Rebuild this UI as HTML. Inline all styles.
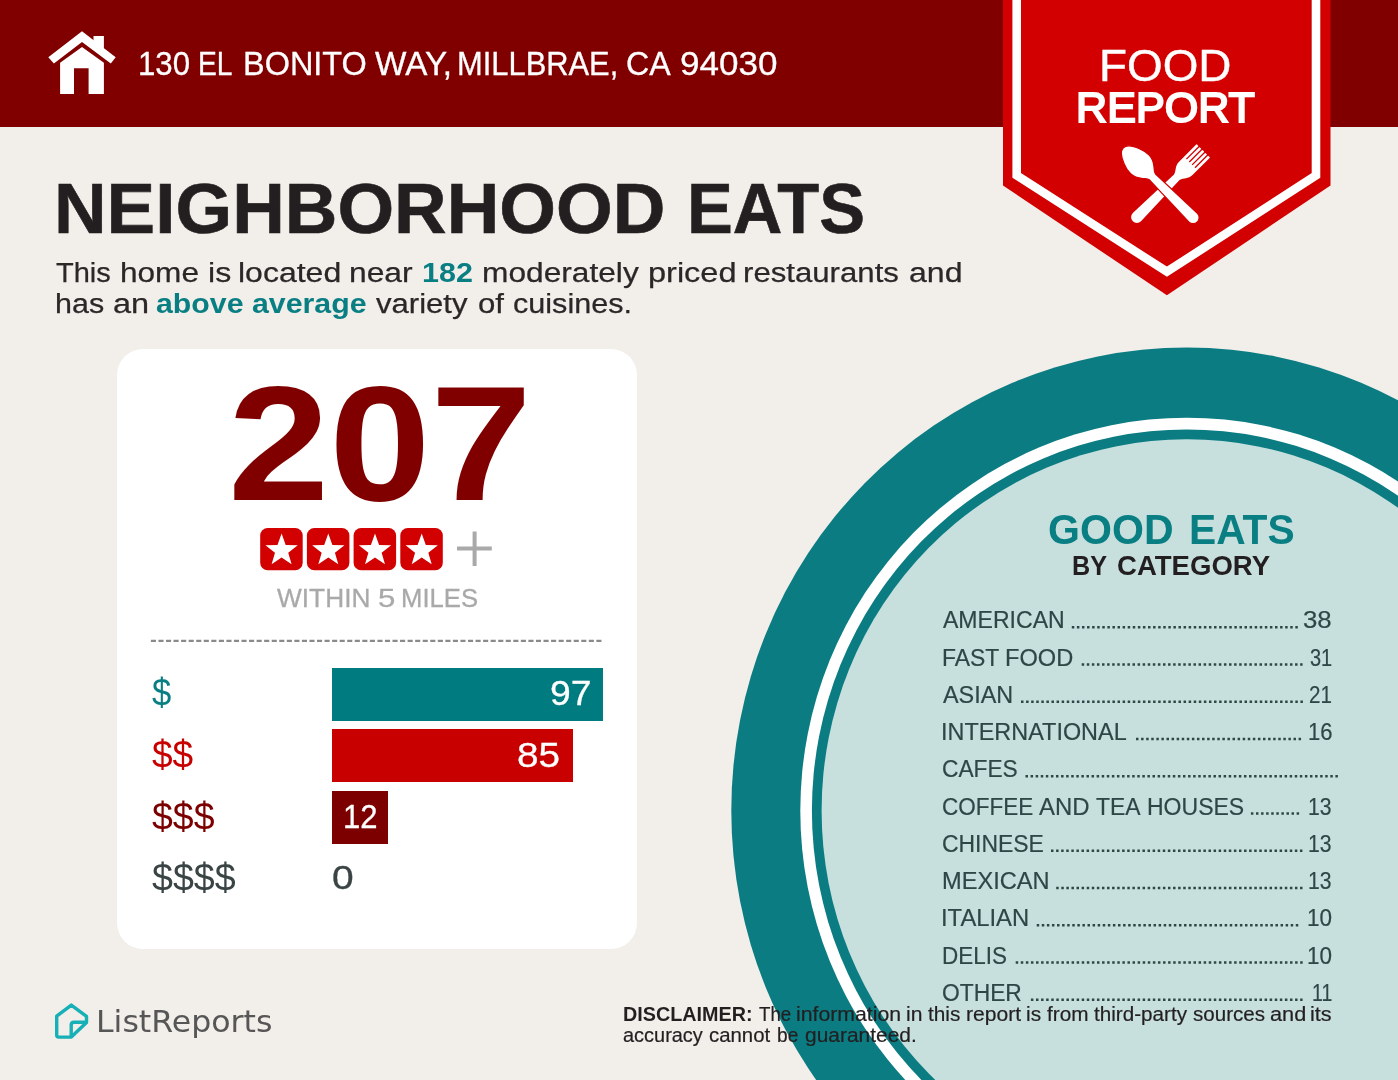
<!DOCTYPE html>
<html lang="en">
<head>
<meta charset="utf-8">
<title>Food Report - Neighborhood Eats</title>
<style>
html,body{margin:0;padding:0}
body{width:1398px;height:1080px;position:relative;overflow:hidden;background:#f2eeea;font-family:'Liberation Sans',sans-serif}
.t{position:absolute;white-space:nowrap;line-height:1;transform-origin:0 0}
.abs{position:absolute}
#hdr{left:0;top:0;width:1398px;height:126.8px;background:#800000}
#card{left:117px;top:349px;width:519.6px;height:599.5px;border-radius:26px;background:#fff}
.bar{position:absolute;left:332.1px;height:53.3px}
svg{position:absolute;left:0;top:0}
</style>
</head>
<body>
<div id="hdr" class="abs"></div>
<svg id="bg" width="1398" height="1080" viewBox="0 0 1398 1080">
  <!-- plate -->
  <ellipse cx="1186.8" cy="810.7" rx="455.5" ry="463.2" fill="#0a7c82"/>
  <ellipse cx="1186.8" cy="810.7" rx="386.5" ry="393.0" fill="#fff"/>
  <ellipse cx="1186.8" cy="810.7" rx="374.9" ry="381.3" fill="#0a7c82"/>
  <ellipse cx="1186.8" cy="810.7" rx="365.2" ry="371.4" fill="#c7e0de"/>
  <!-- badge -->
  <polygon points="1003,0 1330.5,0 1330.5,185.5 1166.9,295.3 1003,185.5" fill="#d20000"/>
  <polyline points="1016.7,-5 1016.7,175.4 1166.9,271.7 1316,175.4 1316,-5" fill="none" stroke="#fff" stroke-width="8.6"/>
  <!-- house icon -->
  <g fill="#fff">
    <polygon points="48.3,57.3 82,31.25 115.7,57.3 110.8,63.5 82,42 53.9,63.5"/>
    <polygon points="93.5,36.1 103.9,36.1 103.9,52 93.5,44"/>
    <path d="M60.1,62.8 L82,46.9 L103.9,62.8 V94.1 H88.6 V68.2 H74 V94.1 H60.1 Z"/>
  </g>
  <!-- fork -->
  <g fill="#fff" transform="translate(1203.3,150.8) rotate(45)">
    <path d="M-9.45,0.6 Q-9.45,0 -8.85,0 H-7.30 Q-6.70,0 -6.70,0.6 V17.8 H-5.40 V0.6 Q-5.40,0 -4.80,0 H-3.25 Q-2.65,0 -2.65,0.6 V17.8 H-1.35 V0.6 Q-1.35,0 -0.75,0 H0.80 Q1.40,0 1.40,0.6 V17.8 H2.70 V0.6 Q2.70,0 3.30,0 H4.85 Q5.45,0 5.45,0.6 V17.8 H6.75 V0.6 Q6.75,0 7.35,0 H8.90 Q9.50,0 9.50,0.6 V24.8 C9.45,31 5.4,32.5 3.9,37.5 L5.8,93.9 A5.8,5.8 0 0 1 -5.8,93.9 L-3.9,37.5 C-5.4,32.5 -9.45,31 -9.45,24.8 Z"/>
  </g>
  <!-- spoon -->
  <g fill="#fff" stroke="#d20000" stroke-width="1.3" transform="translate(1123.3,147.8) rotate(-45)">
    <path d="M0,0 C5,0 8.5,6 10.8,12 C12.6,16.5 13.3,20 13.2,23.5 C13,28.5 10.5,32.5 8,35.5 C6,38 4.6,39 4.2,41.5 L6.1,98.7 A6.1,6.1 0 0 1 -6.1,98.7 L-4.2,41.5 C-4.6,39 -6,38 -8,35.5 C-10.5,32.5 -13,28.5 -13.2,23.5 C-13.3,20 -12.6,16.5 -10.8,12 C-8.5,6 -5,0 0,0 Z"/>
  </g>
</svg>
<div id="card" class="abs"></div>
<div class="bar" style="top:667.5px;width:270.9px;background:#007b7f"></div>
<div class="bar" style="top:729.2px;width:240.6px;background:#c80000"></div>
<div class="bar" style="top:791.1px;width:55.8px;background:#7d0000"></div>
<svg id="fg" width="1398" height="1080" viewBox="0 0 1398 1080">
  <!-- stars -->
  <g id="stars">
    <g transform="translate(260.2,528)"><rect width="42.5" height="42.3" rx="7.5" fill="#d20000"/><polygon fill="#fff" points="21.40,5.60 25.50,16.96 37.57,17.35 28.03,24.75 31.39,36.35 21.40,29.57 11.41,36.35 14.77,24.75 5.23,17.35 17.30,16.96"/></g>
    <g transform="translate(306.9,528)"><rect width="42.5" height="42.3" rx="7.5" fill="#d20000"/><polygon fill="#fff" points="21.40,5.60 25.50,16.96 37.57,17.35 28.03,24.75 31.39,36.35 21.40,29.57 11.41,36.35 14.77,24.75 5.23,17.35 17.30,16.96"/></g>
    <g transform="translate(353.6,528)"><rect width="42.5" height="42.3" rx="7.5" fill="#d20000"/><polygon fill="#fff" points="21.40,5.60 25.50,16.96 37.57,17.35 28.03,24.75 31.39,36.35 21.40,29.57 11.41,36.35 14.77,24.75 5.23,17.35 17.30,16.96"/></g>
    <g transform="translate(400.3,528)"><rect width="42.5" height="42.3" rx="7.5" fill="#d20000"/><polygon fill="#fff" points="21.40,5.60 25.50,16.96 37.57,17.35 28.03,24.75 31.39,36.35 21.40,29.57 11.41,36.35 14.77,24.75 5.23,17.35 17.30,16.96"/></g>
  </g>
  <path d="M150.9,640.9H603.7" stroke="#8a8a8a" stroke-width="2.2" stroke-dasharray="5.1 2.45" fill="none"/>
  <!-- plus -->
  <path d="M457,548.6 H491.8 M474.6,531.4 V566.1" stroke="#a9a9a9" stroke-width="4" fill="none"/>
  <!-- logo -->
  <g fill="none" stroke="#17b0b6" stroke-width="3.4" stroke-linejoin="round" stroke-linecap="round">
    <path d="M71.3,1005.1 L56.7,1016.2 V1035 Q56.7,1037.1 58.8,1037.1 H71.3 L86.5,1022.6 V1016.4 Z"/>
    <path d="M71.2,1036.5 V1025 Q71.2,1022.2 74,1022.2 H86"/>
  </g>
</svg>
<svg width="1398" height="1080" viewBox="0 0 1398 1080"><g stroke="#2f4646" stroke-width="2.5" stroke-dasharray="2.5 2.58">
<path d="M1071.8,627.2h226.0"/>
<path d="M1081.7,664.5h220.9"/>
<path d="M1021.0,701.7h281.9"/>
<path d="M1136.0,739.0h165.1"/>
<path d="M1025.5,776.2h312.4"/>
<path d="M1250.9,813.5h48.2"/>
<path d="M1051.0,850.8h251.4"/>
<path d="M1056.2,888.0h246.3"/>
<path d="M1036.7,925.3h261.6"/>
<path d="M1015.7,962.5h287.0"/>
<path d="M1030.9,999.8h271.7"/>
</g></svg>
<div class="t" style="left:137.58px;top:48.03px;font-size:32.61px;color:#fff;-webkit-text-stroke:0.3px;transform:scaleX(0.9550)">130</div>
<div class="t" style="left:198.42px;top:48.03px;font-size:32.61px;color:#fff;-webkit-text-stroke:0.3px;transform:scaleX(0.8651)">EL</div>
<div class="t" style="left:243.11px;top:48.03px;font-size:32.61px;color:#fff;-webkit-text-stroke:0.3px;transform:scaleX(0.9951)">BONITO</div>
<div class="t" style="left:375.49px;top:48.03px;font-size:32.61px;color:#fff;-webkit-text-stroke:0.3px;transform:scaleX(1.0205)">WAY,</div>
<div class="t" style="left:457.42px;top:48.03px;font-size:32.61px;color:#fff;-webkit-text-stroke:0.3px;transform:scaleX(0.9467)">MILLBRAE,</div>
<div class="t" style="left:625.67px;top:48.03px;font-size:32.61px;color:#fff;-webkit-text-stroke:0.3px;transform:scaleX(0.9863)">CA</div>
<div class="t" style="left:680.36px;top:48.03px;font-size:32.61px;color:#fff;-webkit-text-stroke:0.3px;transform:scaleX(1.0745)">94030</div>
<div class="t" style="left:1099.45px;top:43.93px;font-size:44.86px;color:#fff;-webkit-text-stroke:0.45px;transform:scaleX(1.0218)">FOOD</div>
<div class="t" style="left:1076.11px;top:86.80px;font-size:42.17px;color:#fff;-webkit-text-stroke:2px;transform:scaleX(1.0227)">REPORT</div>
<div class="t" style="left:54.43px;top:174.83px;font-size:69.86px;font-weight:700;color:#231f20;-webkit-text-stroke:0.6px;transform:scaleX(1.0430)">NEIGHBORHOOD</div>
<div class="t" style="left:687.18px;top:174.83px;font-size:69.86px;font-weight:700;color:#231f20;-webkit-text-stroke:0.6px;transform:scaleX(0.9833)">EATS</div>
<div class="t" style="left:55.91px;top:257.53px;font-size:28.19px;color:#2b2728;-webkit-text-stroke:0.25px;transform:scaleX(1.0284)">This</div>
<div class="t" style="left:119.71px;top:257.53px;font-size:28.19px;color:#2b2728;-webkit-text-stroke:0.25px;transform:scaleX(1.1197)">home</div>
<div class="t" style="left:207.89px;top:257.53px;font-size:28.19px;color:#2b2728;-webkit-text-stroke:0.25px;transform:scaleX(1.1394)">is</div>
<div class="t" style="left:238.39px;top:257.53px;font-size:28.19px;color:#2b2728;-webkit-text-stroke:0.25px;transform:scaleX(1.1351)">located</div>
<div class="t" style="left:349.48px;top:257.53px;font-size:28.19px;color:#2b2728;-webkit-text-stroke:0.25px;transform:scaleX(1.1275)">near</div>
<div class="t" style="left:421.80px;top:257.70px;font-size:28.55px;font-weight:700;color:#0a7f83;transform:scaleX(1.0678)">182</div>
<div class="t" style="left:481.59px;top:257.53px;font-size:28.19px;color:#2b2728;-webkit-text-stroke:0.25px;transform:scaleX(1.1240)">moderately</div>
<div class="t" style="left:647.54px;top:257.53px;font-size:28.19px;color:#2b2728;-webkit-text-stroke:0.25px;transform:scaleX(1.1529)">priced</div>
<div class="t" style="left:743.44px;top:257.53px;font-size:28.19px;color:#2b2728;-webkit-text-stroke:0.25px;transform:scaleX(1.1057)">restaurants</div>
<div class="t" style="left:908.61px;top:257.53px;font-size:28.19px;color:#2b2728;-webkit-text-stroke:0.25px;transform:scaleX(1.1380)">and</div>
<div class="t" style="left:54.88px;top:289.13px;font-size:28.19px;color:#2b2728;-webkit-text-stroke:0.25px;transform:scaleX(1.0814)">has</div>
<div class="t" style="left:112.59px;top:289.13px;font-size:28.19px;color:#2b2728;-webkit-text-stroke:0.25px;transform:scaleX(1.1524)">an</div>
<div class="t" style="left:156.01px;top:289.30px;font-size:28.55px;font-weight:700;color:#0a7f83;transform:scaleX(1.0603)">above</div>
<div class="t" style="left:252.00px;top:289.30px;font-size:28.55px;font-weight:700;color:#0a7f83;transform:scaleX(1.0616)">average</div>
<div class="t" style="left:375.50px;top:289.13px;font-size:28.19px;color:#2b2728;-webkit-text-stroke:0.25px;transform:scaleX(1.1027)">variety</div>
<div class="t" style="left:477.67px;top:289.13px;font-size:28.19px;color:#2b2728;-webkit-text-stroke:0.25px;transform:scaleX(1.1044)">of</div>
<div class="t" style="left:513.48px;top:289.13px;font-size:28.19px;color:#2b2728;-webkit-text-stroke:0.25px;transform:scaleX(1.0854)">cuisines.</div>
<div class="t" style="left:227.78px;top:362.15px;font-size:163.86px;font-weight:700;color:#800000;transform:scaleX(1.1113)">207</div>
<div class="t" style="left:277.42px;top:586.23px;font-size:25.65px;color:#a9a9a9;-webkit-text-stroke:0.3px;transform:scaleX(1.0249)">WITHIN</div>
<div class="t" style="left:377.92px;top:586.23px;font-size:25.65px;color:#a9a9a9;-webkit-text-stroke:0.3px;transform:scaleX(1.2165)">5</div>
<div class="t" style="left:401.38px;top:586.23px;font-size:25.65px;color:#a9a9a9;-webkit-text-stroke:0.3px;transform:scaleX(1.0014)">MILES</div>
<div class="t" style="left:151.96px;top:674.09px;font-size:38.41px;color:#0a7f83;transform:scaleX(0.9029)">$</div>
<div class="t" style="left:151.91px;top:735.99px;font-size:38.41px;color:#c80000;transform:scaleX(0.9649)">$$</div>
<div class="t" style="left:151.59px;top:797.69px;font-size:38.66px;color:#7d0000;transform:scaleX(0.9692)">$$$</div>
<div class="t" style="left:151.58px;top:859.39px;font-size:38.66px;color:#3a4444;transform:scaleX(0.9727)">$$$$</div>
<div class="t" style="left:550.34px;top:675.50px;font-size:34.50px;color:#fff;-webkit-text-stroke:0.3px;transform:scaleX(1.0804)">97</div>
<div class="t" style="left:517.28px;top:736.67px;font-size:35.19px;color:#fff;-webkit-text-stroke:0.3px;transform:scaleX(1.1024)">85</div>
<div class="t" style="left:343.39px;top:800.40px;font-size:33.56px;color:#fff;-webkit-text-stroke:0.3px;transform:scaleX(0.9251)">12</div>
<div class="t" style="left:332.46px;top:861.20px;font-size:33.96px;color:#3a4444;-webkit-text-stroke:0.3px;transform:scaleX(1.1455)">0</div>
<div class="t" style="left:1047.92px;top:508.10px;font-size:42.75px;font-weight:700;color:#0a7f83;transform:scaleX(0.9614)">GOOD</div>
<div class="t" style="left:1188.52px;top:508.10px;font-size:42.75px;font-weight:700;color:#0a7f83;transform:scaleX(0.9527)">EATS</div>
<div class="t" style="left:1071.87px;top:551.00px;font-size:28.26px;font-weight:700;color:#231f20;transform:scaleX(0.8914)">BY</div>
<div class="t" style="left:1116.58px;top:551.00px;font-size:28.26px;font-weight:700;color:#231f20;transform:scaleX(0.9755)">CATEGORY</div>
<div class="t" style="left:942.69px;top:608.40px;font-size:24.35px;color:#2f4646;-webkit-text-stroke:0.2px;transform:scaleX(0.9469)">AMERICAN</div>
<div class="t" style="left:1303.47px;top:608.40px;font-size:24.35px;color:#2f4646;-webkit-text-stroke:0.2px;transform:scaleX(1.0605)">38</div>
<div class="t" style="left:941.67px;top:645.66px;font-size:24.35px;color:#2f4646;-webkit-text-stroke:0.2px;transform:scaleX(0.9411)">FAST</div>
<div class="t" style="left:1005.42px;top:645.66px;font-size:24.35px;color:#2f4646;-webkit-text-stroke:0.2px;transform:scaleX(0.9694)">FOOD</div>
<div class="t" style="left:1309.72px;top:645.66px;font-size:24.35px;color:#2f4646;-webkit-text-stroke:0.2px;transform:scaleX(0.8209)">31</div>
<div class="t" style="left:942.68px;top:682.92px;font-size:24.35px;color:#2f4646;-webkit-text-stroke:0.2px;transform:scaleX(0.9614)">ASIAN</div>
<div class="t" style="left:1309.06px;top:682.92px;font-size:24.35px;color:#2f4646;-webkit-text-stroke:0.2px;transform:scaleX(0.8467)">21</div>
<div class="t" style="left:941.44px;top:720.18px;font-size:24.35px;color:#2f4646;-webkit-text-stroke:0.2px;transform:scaleX(0.9622)">INTERNATIONAL</div>
<div class="t" style="left:1307.50px;top:720.18px;font-size:24.35px;color:#2f4646;-webkit-text-stroke:0.2px;transform:scaleX(0.9053)">16</div>
<div class="t" style="left:941.73px;top:757.44px;font-size:24.35px;color:#2f4646;-webkit-text-stroke:0.2px;transform:scaleX(0.9334)">CAFES</div>
<div class="t" style="left:941.94px;top:794.70px;font-size:24.35px;color:#2f4646;-webkit-text-stroke:0.2px;transform:scaleX(0.9237)">COFFEE</div>
<div class="t" style="left:1039.48px;top:794.70px;font-size:24.35px;color:#2f4646;-webkit-text-stroke:0.2px;transform:scaleX(0.9824)">AND</div>
<div class="t" style="left:1096.03px;top:794.70px;font-size:24.35px;color:#2f4646;-webkit-text-stroke:0.2px;transform:scaleX(0.9409)">TEA</div>
<div class="t" style="left:1146.76px;top:794.70px;font-size:24.35px;color:#2f4646;-webkit-text-stroke:0.2px;transform:scaleX(0.9454)">HOUSES</div>
<div class="t" style="left:1308.46px;top:794.70px;font-size:24.35px;color:#2f4646;-webkit-text-stroke:0.2px;transform:scaleX(0.8687)">13</div>
<div class="t" style="left:941.72px;top:831.96px;font-size:24.35px;color:#2f4646;-webkit-text-stroke:0.2px;transform:scaleX(0.9413)">CHINESE</div>
<div class="t" style="left:1308.46px;top:831.96px;font-size:24.35px;color:#2f4646;-webkit-text-stroke:0.2px;transform:scaleX(0.8687)">13</div>
<div class="t" style="left:941.62px;top:869.22px;font-size:24.35px;color:#2f4646;-webkit-text-stroke:0.2px;transform:scaleX(0.9695)">MEXICAN</div>
<div class="t" style="left:1308.46px;top:869.22px;font-size:24.35px;color:#2f4646;-webkit-text-stroke:0.2px;transform:scaleX(0.8687)">13</div>
<div class="t" style="left:941.41px;top:906.48px;font-size:24.35px;color:#2f4646;-webkit-text-stroke:0.2px;transform:scaleX(0.9776)">ITALIAN</div>
<div class="t" style="left:1306.86px;top:906.48px;font-size:24.35px;color:#2f4646;-webkit-text-stroke:0.2px;transform:scaleX(0.9241)">10</div>
<div class="t" style="left:941.71px;top:943.74px;font-size:24.35px;color:#2f4646;-webkit-text-stroke:0.2px;transform:scaleX(0.9217)">DELIS</div>
<div class="t" style="left:1306.86px;top:943.74px;font-size:24.35px;color:#2f4646;-webkit-text-stroke:0.2px;transform:scaleX(0.9241)">10</div>
<div class="t" style="left:941.77px;top:981.00px;font-size:24.35px;color:#2f4646;-webkit-text-stroke:0.2px;transform:scaleX(0.9371)">OTHER</div>
<div class="t" style="left:1311.65px;top:981.00px;font-size:24.35px;color:#2f4646;-webkit-text-stroke:0.2px;transform:scaleX(0.8000)">11</div>
<div class="t" style="left:622.63px;top:1003.60px;font-size:20.00px;font-weight:700;color:#231f20;transform:scaleX(0.9877)">DISCLAIMER:</div>
<div class="t" style="left:759.44px;top:1004.60px;font-size:19.71px;color:#231f20;-webkit-text-stroke:0.2px;transform:scaleX(0.9487)">The</div>
<div class="t" style="left:796.33px;top:1004.60px;font-size:19.71px;color:#231f20;-webkit-text-stroke:0.2px;transform:scaleX(1.0791)">information</div>
<div class="t" style="left:906.44px;top:1004.60px;font-size:19.71px;color:#231f20;-webkit-text-stroke:0.2px;transform:scaleX(1.0703)">in</div>
<div class="t" style="left:928.32px;top:1004.60px;font-size:19.71px;color:#231f20;-webkit-text-stroke:0.2px;transform:scaleX(1.0556)">this</div>
<div class="t" style="left:965.92px;top:1004.60px;font-size:19.71px;color:#231f20;-webkit-text-stroke:0.2px;transform:scaleX(1.0696)">report</div>
<div class="t" style="left:1026.25px;top:1004.60px;font-size:19.71px;color:#231f20;-webkit-text-stroke:0.2px;transform:scaleX(1.0591)">is</div>
<div class="t" style="left:1047.34px;top:1004.60px;font-size:19.71px;color:#231f20;-webkit-text-stroke:0.2px;transform:scaleX(1.0539)">from</div>
<div class="t" style="left:1094.12px;top:1004.60px;font-size:19.71px;color:#231f20;-webkit-text-stroke:0.2px;transform:scaleX(1.0490)">third-party</div>
<div class="t" style="left:1192.71px;top:1004.60px;font-size:19.71px;color:#231f20;-webkit-text-stroke:0.2px;transform:scaleX(1.0448)">sources</div>
<div class="t" style="left:1270.40px;top:1004.60px;font-size:19.71px;color:#231f20;-webkit-text-stroke:0.2px;transform:scaleX(1.1039)">and</div>
<div class="t" style="left:1310.20px;top:1004.60px;font-size:19.71px;color:#231f20;-webkit-text-stroke:0.2px;transform:scaleX(1.0996)">its</div>
<div class="t" style="left:622.78px;top:1025.50px;font-size:19.71px;color:#231f20;-webkit-text-stroke:0.2px;transform:scaleX(1.0131)">accuracy</div>
<div class="t" style="left:709.08px;top:1025.50px;font-size:19.71px;color:#231f20;-webkit-text-stroke:0.2px;transform:scaleX(1.0347)">cannot</div>
<div class="t" style="left:776.86px;top:1025.50px;font-size:19.71px;color:#231f20;-webkit-text-stroke:0.2px;transform:scaleX(0.9706)">be</div>
<div class="t" style="left:805.29px;top:1025.50px;font-size:19.71px;color:#231f20;-webkit-text-stroke:0.2px;transform:scaleX(1.0633)">guaranteed.</div>
<div class="t" style="left:96.35px;top:1007.90px;font-size:29.59px;font-family:'DejaVu Sans','Liberation Sans',sans-serif;color:#565656;transform:scaleX(1.0681)">ListReports</div>
</body>
</html>
